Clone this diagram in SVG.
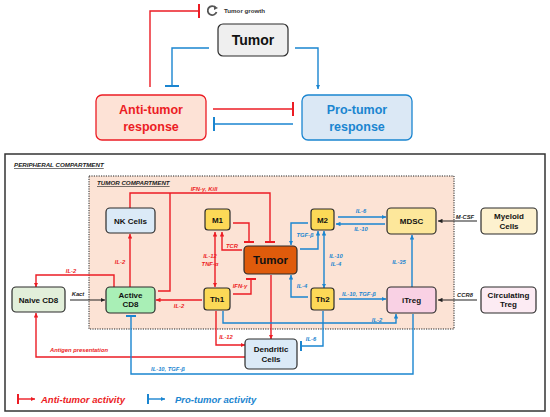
<svg xmlns="http://www.w3.org/2000/svg" width="550" height="417" viewBox="0 0 550 417">
<style>
.node rect{stroke:#2b2b2b;stroke-width:1.2}
.nt{font-family:"Liberation Sans",Arial,sans-serif;font-weight:bold;font-size:8px;fill:#111;text-anchor:middle}
.big{font-size:11.5px}
.r{stroke:#ec1c24;fill:none;stroke-width:1.4}
.b{stroke:#1a85d0;fill:none;stroke-width:1.4}
.k{stroke:#222;fill:none;stroke-width:1.2}
.lr,.lb,.lk{font-family:"Liberation Sans",Arial,sans-serif;font-weight:bold;font-style:italic;font-size:5.8px;text-anchor:middle}
.lr{fill:#ec1c24}.lb{fill:#1a85d0}.lk{fill:#222}
</style>
<defs>
<marker id="ar" viewBox="0 0 6 6" refX="6" refY="3" markerWidth="4.5" markerHeight="4.5" orient="auto-start-reverse" markerUnits="userSpaceOnUse"><path d="M0,0L6,3L0,6z" fill="#ec1c24"/></marker>
<marker id="ab" viewBox="0 0 6 6" refX="6" refY="3" markerWidth="4.5" markerHeight="4.5" orient="auto-start-reverse" markerUnits="userSpaceOnUse"><path d="M0,0L6,3L0,6z" fill="#1a85d0"/></marker>
<marker id="ak" viewBox="0 0 6 6" refX="6" refY="3" markerWidth="4.5" markerHeight="4.5" orient="auto" markerUnits="userSpaceOnUse"><path d="M0,0L6,3L0,6z" fill="#222"/></marker>
<marker id="tr" viewBox="0 0 2 10" refX="1" refY="5" markerWidth="2" markerHeight="10" orient="auto" markerUnits="userSpaceOnUse"><rect width="2" height="10" fill="#ec1c24"/></marker>
<marker id="tb" viewBox="0 0 2 10" refX="1" refY="5" markerWidth="2" markerHeight="10" orient="auto" markerUnits="userSpaceOnUse"><rect width="2" height="10" fill="#1a85d0"/></marker>
<marker id="trL" viewBox="0 0 2 14" refX="1" refY="7" markerWidth="2" markerHeight="14" orient="auto" markerUnits="userSpaceOnUse"><rect width="2" height="14" fill="#ec1c24"/></marker>
<marker id="tbL" viewBox="0 0 2 14" refX="1" refY="7" markerWidth="2" markerHeight="14" orient="auto" markerUnits="userSpaceOnUse"><rect width="2" height="14" fill="#1a85d0"/></marker>
</defs>

<!-- TOP SCHEME -->
<g id="tumor-growth">
<path d="M215.5,7.5 A4.5,4.5 0 1 0 216.5,12" fill="none" stroke="#555" stroke-width="1.8"/>
<path d="M214,5.5 L218,8 L214,10z" fill="#555"/>
<text x="224" y="13" font-family="Liberation Sans,Arial,sans-serif" font-weight="bold" font-size="6.2" fill="#333">Tumor growth</text>
</g>
<g id="top-tumor" class="node">
<rect x="218" y="24" width="70" height="32" rx="5" fill="#efefef" stroke="#333" stroke-width="1.3"/>
<text x="253" y="45" font-family="Liberation Sans,Arial,sans-serif" font-weight="bold" font-size="14" text-anchor="middle" fill="#111">Tumor</text>
</g>
<g id="anti-tumor">
<rect x="96" y="95" width="110" height="45" rx="6" fill="#fde2d6" stroke="#ec1c24" stroke-width="1.3"/>
<text x="151" y="114" font-family="Liberation Sans,Arial,sans-serif" font-weight="bold" font-size="12.5" text-anchor="middle" fill="#ec1c24">Anti-tumor</text>
<text x="151" y="131" font-family="Liberation Sans,Arial,sans-serif" font-weight="bold" font-size="12.5" text-anchor="middle" fill="#ec1c24">response</text>
</g>
<g id="pro-tumor">
<rect x="302" y="95" width="110" height="45" rx="6" fill="#dbe8f5" stroke="#1a85d0" stroke-width="1.3"/>
<text x="357" y="114" font-family="Liberation Sans,Arial,sans-serif" font-weight="bold" font-size="12.5" text-anchor="middle" fill="#1a85d0">Pro-tumor</text>
<text x="357" y="131" font-family="Liberation Sans,Arial,sans-serif" font-weight="bold" font-size="12.5" text-anchor="middle" fill="#1a85d0">response</text>
</g>
<g id="top-connectors">
<path class="r" d="M150,87 V11 H199" marker-end="url(#trL)"/>
<path class="b" d="M209,48 H172 V86" marker-end="url(#tbL)"/>
<path class="b" d="M295,48 H318 V89" marker-end="url(#ab)"/>
<path class="r" d="M213,109 H293" marker-end="url(#trL)"/>
<path class="b" d="M293,124 H214" marker-end="url(#tbL)"/>
</g>

<!-- COMPARTMENTS -->
<rect x="5" y="154" width="540" height="257" fill="#fff" stroke="#333" stroke-width="1.5"/>
<text x="14" y="167" font-family="Liberation Sans,Arial,sans-serif" font-weight="bold" font-style="italic" font-size="6.2" fill="#222" text-decoration="underline">PERIPHERAL COMPARTMENT</text>
<rect x="89" y="176" width="365" height="153" fill="#fce3d5" stroke="#222" stroke-width="1" stroke-dasharray="1.2,1.2"/>
<text x="97" y="185" font-family="Liberation Sans,Arial,sans-serif" font-weight="bold" font-style="italic" font-size="6.2" fill="#222" text-decoration="underline">TUMOR COMPARTMENT</text>

<!-- CONNECTORS -->
<g id="connectors">
<path class="r" d="M130,208 V193 H270 V242" marker-end="url(#tr)"/>
<path class="r" d="M158,291 H170 V193"/>
<path class="r" d="M233,223 H249 V242" marker-end="url(#tr)"/>
<path class="r" d="M242,250 H222 V232" marker-end="url(#ar)"/>
<path class="r" d="M215,232 V287" marker-start="url(#ar)" marker-end="url(#ar)"/>
<path class="r" d="M233,294 H251 V279" marker-end="url(#tr)"/>
<path class="r" d="M202,300 H156" marker-end="url(#ar)"/>
<path class="r" d="M130,287 V234" marker-end="url(#ar)"/>
<path class="r" d="M114,287 V275 H36 V287" marker-end="url(#ar)"/>
<path class="r" d="M216,311 V345 H245" marker-end="url(#ar)"/>
<path class="r" d="M271,275 V339" marker-end="url(#ar)"/>
<path class="r" d="M245,357 H36 V313" marker-end="url(#ar)"/>

<path class="b" d="M308,223 H291 V245" marker-end="url(#ab)"/>
<path class="b" d="M300,249 H318 V231" marker-end="url(#ab)"/>
<path class="b" d="M324,231 V288" marker-start="url(#ab)" marker-end="url(#ab)"/>
<path class="b" d="M308,297 H291 V275" marker-end="url(#ab)"/>
<path class="b" d="M338,217 H386" marker-end="url(#ab)"/>
<path class="b" d="M385,224 H336" marker-end="url(#ab)"/>
<path class="b" d="M412,287 V235" marker-end="url(#ab)"/>
<path class="b" d="M339,299 H386" marker-end="url(#ab)"/>
<path class="b" d="M223,311 V323 H396 V314" marker-end="url(#ab)"/>
<path class="b" d="M323,311 V346 H301" marker-end="url(#tb)"/>
<path class="b" d="M413,314 V374 H131 V316" marker-end="url(#tb)"/>

<path class="k" d="M70,300 H105" marker-end="url(#ak)"/>
<path class="k" d="M477,221 H438" marker-end="url(#ak)"/>
<path class="k" d="M477,300 H438" marker-end="url(#ak)"/>

<text class="lr" x="204" y="191">IFN-γ, Kill</text>
<text class="lr" x="232" y="248">TCR</text>
<text class="lr" x="210" y="258" text-anchor="end">IL-12</text>
<text class="lr" x="210" y="266" text-anchor="end">TNF-α</text>
<text class="lr" x="240" y="288">IFN-γ</text>
<text class="lr" x="179" y="308">IL-2</text>
<text class="lr" x="120" y="264">IL-2</text>
<text class="lr" x="71" y="273">IL-2</text>
<text class="lr" x="226" y="339">IL-12</text>
<text class="lr" x="79" y="352">Antigen presentation</text>

<text class="lb" x="305" y="237">TGF-β</text>
<text class="lb" x="336" y="258">IL-10</text>
<text class="lb" x="336" y="266">IL-4</text>
<text class="lb" x="302" y="288">IL-4</text>
<text class="lb" x="361" y="213">IL-6</text>
<text class="lb" x="361" y="231">IL-10</text>
<text class="lb" x="399" y="264">IL-35</text>
<text class="lb" x="359" y="296">IL-10, TGF-β</text>
<text class="lb" x="377" y="322">IL-2</text>
<text class="lb" x="311" y="341">IL-6</text>
<text class="lb" x="168" y="371">IL-10, TGF-β</text>

<text class="lk" x="78" y="296">Kact</text>
<text class="lk" x="465" y="219">M-CSF</text>
<text class="lk" x="465" y="297">CCR8</text>
</g>

<!-- NODES -->
<g id="nk" class="node"><rect x="106" y="208" width="49" height="25" rx="4" fill="#dbeaf7"/><text class="nt" x="130.5" y="223.5">NK Cells</text></g>
<g id="m1" class="node"><rect x="205" y="209" width="25" height="21" rx="3" fill="#fcd957"/><text class="nt" x="217.5" y="222.5">M1</text></g>
<g id="m2" class="node"><rect x="311" y="209" width="23" height="21" rx="3" fill="#fcd957"/><text class="nt" x="322.5" y="222.5">M2</text></g>
<g id="tumor" class="node"><rect x="244" y="246" width="53" height="28" rx="4" fill="#df5b0b"/><text class="nt big" x="270.5" y="264">Tumor</text></g>
<g id="th1" class="node"><rect x="204" y="288" width="26" height="22" rx="3" fill="#fcd957"/><text class="nt" x="217" y="302">Th1</text></g>
<g id="th2" class="node"><rect x="311" y="288" width="23" height="22" rx="3" fill="#fcd957"/><text class="nt" x="322.5" y="302">Th2</text></g>
<g id="mdsc" class="node"><rect x="387" y="208" width="49" height="26" rx="4" fill="#fde79b"/><text class="nt" x="411.5" y="224">MDSC</text></g>
<g id="myeloid" class="node"><rect x="481" y="208" width="56" height="26" rx="4" fill="#fdf1cf"/><text class="nt" x="509" y="219">Myeloid</text><text class="nt" x="509" y="229">Cells</text></g>
<g id="itreg" class="node"><rect x="387" y="287" width="49" height="26" rx="4" fill="#f9d1e4"/><text class="nt" x="411.5" y="303">iTreg</text></g>
<g id="circ-treg" class="node"><rect x="481" y="287" width="55" height="26" rx="4" fill="#fcebf3"/><text class="nt" x="508.5" y="298">Circulating</text><text class="nt" x="508.5" y="307">Treg</text></g>
<g id="dendritic" class="node"><rect x="245" y="339" width="52" height="30" rx="4" fill="#dbeaf7"/><text class="nt" x="271" y="352">Dendritic</text><text class="nt" x="271" y="362">Cells</text></g>
<g id="naive" class="node"><rect x="12" y="287" width="53" height="25" rx="4" fill="#e2efda"/><text class="nt" x="38.5" y="302.5">Naive CD8</text></g>
<g id="active" class="node"><rect x="106" y="287" width="49" height="26" rx="4" fill="#a9efb6"/><text class="nt" x="130.5" y="298">Active</text><text class="nt" x="130.5" y="307">CD8</text></g>

<!-- LEGEND -->
<g id="legend">
<path class="r" d="M18,399 H35" marker-end="url(#ar)"/>
<rect x="17" y="394" width="2" height="10" fill="#ec1c24"/>
<text x="41" y="403" font-family="Liberation Sans,Arial,sans-serif" font-weight="bold" font-style="italic" font-size="9.5" fill="#ec1c24">Anti-tumor activity</text>
<path class="b" d="M148,399 H165" marker-end="url(#ab)"/>
<rect x="147" y="394" width="2" height="10" fill="#1a85d0"/>
<text x="175" y="403" font-family="Liberation Sans,Arial,sans-serif" font-weight="bold" font-style="italic" font-size="9.5" fill="#1a85d0">Pro-tumor activity</text>
</g>
</svg>
